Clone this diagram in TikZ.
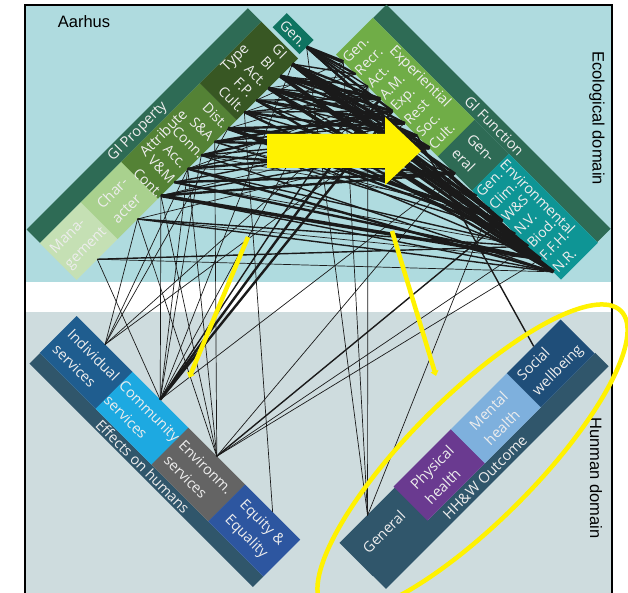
\documentclass[tikz,border=0pt]{standalone}
\usepackage{fontspec}
\setmainfont{Liberation Sans}
\newfontfamily\boxfont{Open Sans}
\usetikzlibrary{arrows.meta}

\definecolor{skyback}{HTML}{AFDBDF}
\definecolor{greyback}{HTML}{CEDCDE}
\definecolor{gigreen}{HTML}{2E6B55}
\definecolor{mgcol}{HTML}{C5E0B4}
\definecolor{chcol}{HTML}{A9D18E}
\definecolor{atcol}{HTML}{548235}
\definecolor{tycol}{HTML}{385723}
\definecolor{gencol}{HTML}{0F7461}
\definecolor{expcol}{HTML}{70AD47}
\definecolor{envcol}{HTML}{0E9595}
\definecolor{slate}{HTML}{30566B}
\definecolor{indcol}{HTML}{1F5D8F}
\definecolor{comcol}{HTML}{1DA9E1}
\definecolor{encol}{HTML}{646464}
\definecolor{eqcol}{HTML}{2D56A0}
\definecolor{phcol}{HTML}{6A3A90}
\definecolor{mhcol}{HTML}{7EB0DD}
\definecolor{swcol}{HTML}{1F4E79}
\definecolor{inkcol}{HTML}{1A1A1A}
\definecolor{txtcol}{HTML}{EDEDED}

\tikzstyle{box} = [rectangle, inner sep=0pt, outer sep=0pt, text=txtcol, align=left, font=\boxfont\fontsize{14.5}{21}\selectfont]
\tikzstyle{lbl} = [inner sep=0pt, text=txtcol, align=left, font=\boxfont\fontsize{14.5}{21}\selectfont]
\tikzstyle{itm} = [inner sep=0pt, text=txtcol, font=\boxfont\fontsize{14}{16}\selectfont]
\tikzstyle{domlbl} = [inner sep=0pt, font=\fontsize{16.5}{20}\selectfont]
\tikzstyle{linkA} = [draw=inkcol, line width=0.7]
\tikzstyle{linkB} = [draw=inkcol, line width=1.4]
\tikzstyle{linkC} = [draw=inkcol, line width=2.4]
\tikzstyle{linkD} = [draw=inkcol, line width=3.5]
\tikzstyle{marker} = [draw=yellow, line width=4.5]

\begin{document}
\begin{tikzpicture}[x=1pt, y=-1pt]
\useasboundingbox (0,0) rectangle (628,593);
\fill[skyback] (25,5) rectangle (612,282);
\fill[greyback] (25,312) rectangle (612,593);
\draw[line width=1.5] (25,593) -- (25,5) -- (612,5) -- (612,593);

\node (aarhus) [domlbl] at (84,22) {Aarhus};
\node (ecodom) [domlbl, rotate=-90] at (597,118) {Ecological domain};
\node (humdom) [domlbl, rotate=-90] at (596,478) {Hunman domain};

% GI Property
\begin{scope}[shift={(40,243)}, rotate=45, transform shape]
  \node (gipband) [box, fill=gigreen, minimum width=313, minimum height=19] at (156.5,-9.5) {};
  \node (gip) [lbl] at (148,-9.5) {GI Property};
  \node (mgbox) [box, fill=mgcol, minimum width=58.5, minimum height=52] at (29,26) {Mana-\\gement};
  \node (chbox) [box, fill=chcol, minimum width=57.5, minimum height=52] at (86.5,26) {Char-\\acter};
  \node (atbox) [box, fill=atcol, minimum width=111.5, minimum height=52] at (170.5,26) {};
  \node (atlbl) [lbl] at (165,9) {Attribute};
  \node (tybox) [box, fill=tycol, minimum width=87, minimum height=52] at (269.5,26) {};
  \node (tylbl) [lbl] at (269,8) {Type};
  \node (genbox) [box, fill=gencol, minimum width=20, minimum height=38] at (327,31) {};
  \node (genlbl) [itm, rotate=-90] at (327,31) {Gen.};
  \coordinate (pgen) at (327,50);
  \coordinate (pmg) at (29,52);
  \coordinate (pch) at (86,52);
  \foreach \n/\u/\t in {pcont/119/Cont., pvm/138/V\&M, pacc/157/Acc., pconn/176/Conn., psa/195/S\&A, pdist/214/Dist.,
                        pcult/237/Cult., pfp/254/F.P., pact/271/Act., pbi/288/BI, pgi/305/GI} {
    \node (\n-lbl) [itm, rotate=-90] at (\u,34) {\t};
    \coordinate (\n) at (\u,52);
  }
\end{scope}

% GI Function
\begin{scope}[shift={(373,18)}, rotate=-45, transform shape]
  \node (gifband) [box, fill=gigreen, minimum width=317, minimum height=19] at (158.5,-9.5) {};
  \node (gif) [lbl] at (162,-9.5) {GI Function};
  \node (expbox) [box, fill=expcol, minimum width=144.5, minimum height=52] at (72,26) {};
  \node (explbl) [lbl] at (75,9) {Experiential};
  \node (gebox) [box, fill=gigreen, minimum width=48.5, minimum height=52] at (168,26) {Gen-\\eral};
  \node (envbox) [box, fill=envcol, minimum width=126, minimum height=52] at (255,26) {};
  \node (envlbl) [lbl] at (243,10) {Environmental};
  \coordinate (fgeneral) at (168,52);
  \foreach \n/\u/\t in {fgen/10/Gen., frecr/27.4/Recr., fact/44.8/Act., fam/62.2/A.M., fexp/79.6/Exp., frest/97/Rest, fsoc/114.4/Soc., fcult/131.8/Cult.,
                        egen/199/Gen., eclim/217/Clim., ews/235/W\&S, env/253/N.V., ebiod/271/Biod., effh/289/F.F.H., enr/307/N.R.} {
    \node (\n-lbl) [itm, rotate=90, anchor=west] at (\u,50) {\t};
    \coordinate (\n) at (\u,52);
  }
\end{scope}

% Effects on humans
\begin{scope}[shift={(40,353)}, rotate=-45, transform shape]
  \node (effband) [box, fill=slate, minimum width=316, minimum height=15] at (158,7.5) {};
  \node (eff) [lbl] at (153,7.5) {Effects on humans};
  \node (indbox) [box, fill=indcol, minimum width=79.5, minimum height=52] at (39.5,-26) {Individual\\services};
  \node (combox) [box, fill=comcol, minimum width=79.5, minimum height=52] at (118.5,-26) {Community\\services};
  \node (enbox) [box, fill=encol, minimum width=80.5, minimum height=52] at (198,-26) {Environm.\\services};
  \node (eqbox) [box, fill=eqcol, minimum width=78, minimum height=52] at (277,-26) {Equity \&\\Equality};
  \coordinate (hind) at (40,-52);
  \coordinate (hcom) at (118,-52);
  \coordinate (henv) at (198,-52);
  \coordinate (hequ) at (277,-52);
\end{scope}

% HH&W Outcome
\begin{scope}[shift={(372.5,575.5)}, rotate=45, transform shape]
  \node (hhwband) [box, fill=slate, minimum width=315, minimum height=19] at (157.5,9.5) {};
  \node (hhw) [lbl] at (149,10) {HH\&W Outcome};
  \node (ogbox) [box, fill=slate, minimum width=78.5, minimum height=47] at (39,-23) {General};
  \node (phbox) [box, fill=phcol, minimum width=81.5, minimum height=48] at (118.5,-24) {Physical\\health};
  \node (mhbox) [box, fill=mhcol, minimum width=79.5, minimum height=48] at (198.5,-24) {Mental\\health};
  \node (swbox) [box, fill=swcol, minimum width=76, minimum height=48] at (276,-24) {Social\\wellbeing};
  \coordinate (ogen) at (39,-46);
  \coordinate (osoc) at (276,-48);
\end{scope}

% Links
\foreach \a/\b in {pgi/enr, pgi/effh, pbi/ebiod, pact/enr, pgen/fgen, pgi/fcult, pcont/effh, pdist/ews, pgi/ews, pbi/enr,
                   pbi/fam, pact/frest, pdist/fcult}
  \draw[linkD] (\a) -- (\b);
\foreach \a/\b in {pgen/frecr, pgi/frest, pbi/fexp, pact/effh, pfp/enr, pcult/ebiod, pvm/effh, pacc/enr, psa/fcult, pconn/fgeneral,
                   pdist/env, pgi/fgeneral, pgen/ews, pgi/fam, pbi/fsoc, pact/fcult, hcom/fexp, hcom/fam, pvm/fgeneral,
                   pcult/fsoc, pfp/frest, pconn/fexp, pacc/fcult, pdist/frest, psa/fexp, pcont/fgeneral, pgen/fexp, pgi/ebiod}
  \draw[linkC] (\a) -- (\b);
\foreach \a/\b in {pgen/fact, pgi/frecr, pbi/fact, pact/fam, pfp/fsoc, pcult/fexp, pcult/fgeneral, psa/frest, pconn/enr, pacc/ebiod,
                   pcont/enr, pch/enr, pmg/ebiod, pdist/effh, pfp/egen, pact/eclim, pbi/env, pgen/ebiod, pgen/effh, psa/env,
                   hcom/fact, henv/ews, osoc/fsoc, pfp/fam, pact/fexp, pcult/fam, pconn/fsoc, pacc/frest, pvm/fsoc, pcont/fcult, pch/ebiod}
  \draw[linkB] (\a) -- (\b);
\foreach \a/\b in {pmg/enr, pch/fcult, pch/effh, pcont/fsoc, pacc/fam, pconn/eclim, pdist/fact, pcult/frecr, pfp/fgen, pact/frecr,
                   pgi/egen, psa/ews, pvm/ebiod, pacc/fgeneral, hind/pch, hind/pacc, hind/pdist, hind/fam, hind/frest,
                   hcom/pcont, hcom/pacc, hcom/pconn, hcom/pgi, hcom/fgen, hcom/fgeneral, hcom/pmg, henv/pcont, henv/pacc,
                   henv/psa, henv/effh, henv/ebiod, henv/fgeneral, henv/pch, hequ/pcult, ogen/pgen, ogen/fgen, ogen/fact, ogen/eclim}
  \draw[linkA] (\a) -- (\b);

% yellow marks
\fill[yellow] (267,134) -- (385,134) -- (385,117) -- (421,151) -- (385,185) -- (385,168) -- (267,168) -- cycle;
\coordinate (markA) at (248,237);
\coordinate (markB) at (189,378);
\coordinate (markC) at (392,231);
\coordinate (markD) at (436,376);
\draw[marker, -{Triangle[length=5,width=8]}] (markA) -- (markB);
\draw[marker, -{Triangle[length=5,width=8]}] (markC) -- (markD);
\draw[marker, rotate around={45:(472.5,459.5)}] (472.5,459.5) ellipse [x radius=210, y radius=63];
\end{tikzpicture}
\end{document}
